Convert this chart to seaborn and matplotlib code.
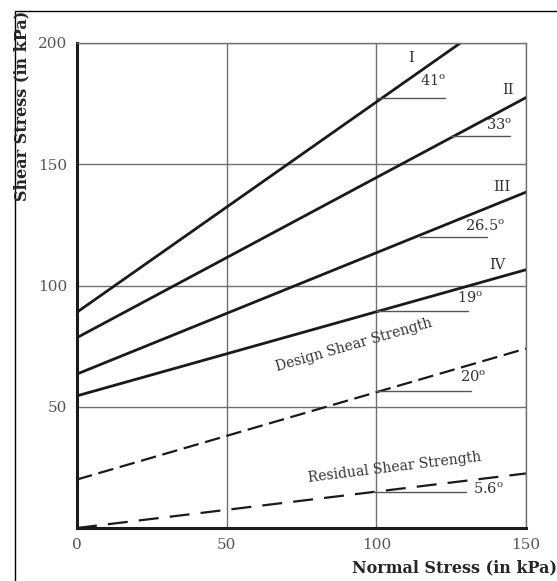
import matplotlib
matplotlib.use('Agg')
import matplotlib.pyplot as plt
import seaborn as sns
from matplotlib.patches import Rectangle

# Strength envelopes: (normal stress, shear stress) end points
line_names = ['I', 'II', 'III', 'IV']
x_ends = [0, 150]
solid_y = {
    'I': [89, 219],
    'II': [78.5, 177.5],
    'III': [63.5, 138.5],
    'IV': [54.5, 106.5],
}
design_y = [20, 74]
residual_y = [0, 22.5]

# roman numeral label positions
roman_x = [111.5, 144, 142, 140.5]
roman_y = [194, 180.5, 140.5, 108.5]

# friction angle labels and their short horizontal reference lines
angle_labels = ['41', '33', '26.5', '19', '20', '5.6']
angle_x = [119, 141, 136.5, 131.5, 132.5, 137.5]
angle_y = [184, 166, 124.5, 94.5, 62, 16]
ref_y = [177.5, 161.5, 120, 89.5, 56.5, 15]
ref_x0 = [100, 125, 114.5, 100, 100, 99]
ref_x1 = [123, 144.5, 137, 130.5, 131.5, 130]

sns.set_style('white')
plt.rcParams['font.family'] = ['DejaVu Serif']
plt.rcParams['mathtext.fontset'] = 'dejavuserif'

fig = plt.figure(figsize=(5.57, 5.81), dpi=100)
ax = fig.add_axes([77/557, 1-528/581, (526-77)/557, (528-43)/581])

for name in line_names:
    sns.lineplot(x=x_ends, y=solid_y[name], ax=ax, color='#1a1a1a', lw=2.0)
sns.lineplot(x=x_ends, y=design_y, ax=ax, color='#1a1a1a', lw=1.6,
             linestyle=(0, (7, 3)))
sns.lineplot(x=x_ends, y=residual_y, ax=ax, color='#1a1a1a', lw=1.6,
             linestyle=(0, (9, 5)))

ax.set_xlim(0, 150)
ax.set_ylim(0, 200)
ax.set_xticks([0, 50, 100, 150])
ax.set_yticks([0, 50, 100, 150, 200])
ax.set_yticklabels(['', '50', '100', '150', '200'])
ax.grid(True, color='#707070', lw=1.0)
ax.tick_params(length=0, labelsize=11, labelcolor='#555555', pad=7)
for side in ['top', 'right']:
    ax.spines[side].set_color('#707070')
    ax.spines[side].set_linewidth(1.0)
for side in ['left', 'bottom']:
    ax.spines[side].set_color('#1a1a1a')
    ax.spines[side].set_linewidth(2.2)

for lab, xx, yy in zip(line_names, roman_x, roman_y):
    ax.text(xx, yy, lab, fontsize=10.5, color='#333333', ha='center', va='center')
for lab, xx, yy, y0, x0, x1 in zip(angle_labels, angle_x, angle_y, ref_y, ref_x0, ref_x1):
    ax.text(xx, yy, lab + r'$^\mathrm{o}$', fontsize=10.5, color='#333333',
            ha='center', va='center')
    ax.plot([x0, x1], [y0, y0], color='#555555', lw=1.0)

ax.text(92.5, 75.5, 'Design Shear Strength', fontsize=10, color='#333333',
        rotation=16, ha='center', va='center', rotation_mode='anchor')
ax.text(106, 25, 'Residual Shear Strength', fontsize=10, color='#333333',
        rotation=7, ha='center', va='center', rotation_mode='anchor')

ax.set_xlabel('')
ax.set_ylabel('')
fig.text(22/557, 1-11/581, 'Shear Stress (in kPa)', rotation=90, ha='center',
         va='top', fontsize=11.5, fontweight='bold')
fig.text(557/557, 1-568/581, 'Normal Stress (in kPa)', ha='right',
         va='center', fontsize=11.5, fontweight='bold')

# outer frame of the original figure
fig.add_artist(Rectangle((15/557, -0.1), 2, 1.1 - 11/581, transform=fig.transFigure,
                         fill=False, edgecolor='black', lw=1.0))

fig.savefig('out.png', dpi=100)
